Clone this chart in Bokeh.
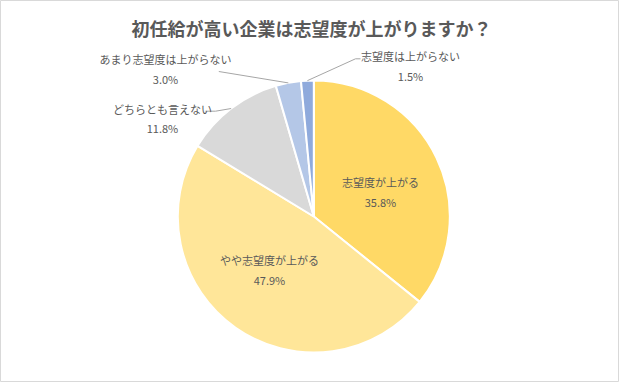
import math
from bokeh.plotting import figure
from bokeh.models import Range1d, ColumnDataSource
from bokeh.embed import file_html
from bokeh.resources import INLINE
from bokeh.core.properties import value

# ---- data ----
title_text = "初任給が高い企業は志望度が上がりますか？"
categories = ["志望度が上がる", "やや志望度が上がる", "どちらとも言えない",
              "あまり志望度は上がらない", "志望度は上がらない"]
percents = [35.8, 47.9, 11.8, 3.0, 1.5]
colors = ["#FFD966", "#FFE699", "#D9D9D9", "#B4C7E7", "#8FAADC"]

# ---- layout (screen px of the reference picture) ----
PAGE_W, PAGE_H = 627, 390
M = 8
W, H = PAGE_W - M, PAGE_H - M
CX, CY, R = 313.3, 216.0, 136.0
# label anchors (x, name line y, percent line y) in screen px
label_pos = [(380, 181, 201.5), (269, 259.5, 279.5), (162, 108, 127),
             (165, 58, 78), (410, 55, 75)]
# leader-line elbow points (screen px) for outside labels
leader_elbows = {2: [(215, 110.7), (205, 110.7)],
                 3: [(218.3, 71)],
                 4: [(355, 58.3), (360, 58.3)]}

FONT = "Noto Sans CJK JP"
TXT = "#595959"


def sx(x):
    return x


def sy(y):
    return PAGE_H - y


p = figure(width=W, height=H, x_range=Range1d(0, W), y_range=Range1d(PAGE_H - H, PAGE_H),
           output_backend="svg", toolbar_location=None, min_border=0)
p.axis.visible = False
p.grid.visible = False
p.outline_line_color = "#D9D9D9"
p.outline_line_width = 1
p.background_fill_color = "white"
p.border_fill_color = "white"

total = sum(percents)
starts, ends, mids = [], [], []
cum = 0.0
for v in percents:
    a0 = math.pi / 2 - 2 * math.pi * cum / total
    cum += v
    a1 = math.pi / 2 - 2 * math.pi * cum / total
    starts.append(a0)
    ends.append(a1)
    mids.append((a0 + a1) / 2)

src = ColumnDataSource(dict(start=starts, end=ends, color=colors))
p.wedge(x=sx(CX), y=sy(CY), radius=R, start_angle="start", end_angle="end",
        direction="clock", fill_color="color", line_color="white", line_width=2,
        source=src)

# leader lines
for i, pts in leader_elbows.items():
    ex = CX + R * math.cos(mids[i])
    ey = CY - R * math.sin(mids[i])
    xs = [sx(ex)] + [sx(a) for a, b in pts]
    ys = [sy(ey)] + [sy(b) for a, b in pts]
    p.line(xs, ys, line_color="#A6A6A6", line_width=1)

# labels
names_x, names_y, pct_x, pct_y, pct_t = [], [], [], [], []
for (lx, ny, py), name, v in zip(label_pos, categories, percents):
    names_x.append(sx(lx))
    names_y.append(sy(ny))
    pct_x.append(sx(lx))
    pct_y.append(sy(py))
    pct_t.append(f"{v:.1f}%")

p.text(x=names_x, y=names_y, text=categories, text_align="center",
       text_baseline="middle", text_font=value(FONT), text_font_size="11px",
       text_color=TXT)
p.text(x=pct_x, y=pct_y, text=pct_t, text_align="center",
       text_baseline="middle", text_font=value(FONT), text_font_size="11px",
       text_color=TXT)

# title
p.text(x=[sx(311)], y=[sy(27)], text=[title_text], text_align="center",
       text_baseline="middle", text_font=value(FONT), text_font_size="18px",
       text_font_style="bold", text_color=TXT)

open("out.html", "w").write(file_html(p, INLINE))
